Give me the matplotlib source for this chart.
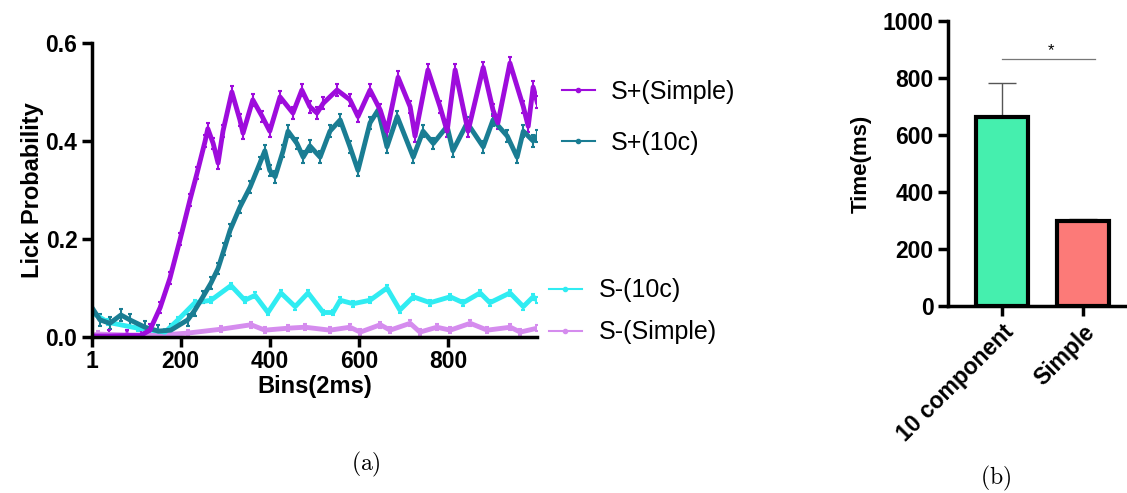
import numpy as np
import matplotlib
matplotlib.use("Agg")
import matplotlib.pyplot as plt
from matplotlib.lines import Line2D

plt.rcParams['font.family'] = ['Liberation Sans', 'DejaVu Sans']
plt.rcParams['mathtext.fontset'] = 'cm'

# (a) lick probability (bin, value)
simple_pos_x = [1, 40, 80, 110, 131, 154, 176, 199, 221, 237, 255, 261, 273, 284, 295, 315, 333, 340, 362,
                383, 400, 423, 452, 472, 490, 506, 520, 551, 580, 598, 625, 648, 663, 688, 715, 726, 755,
                782, 798, 816, 845, 879, 901, 912, 939, 969, 980, 991, 1000]
simple_pos_y = [0.002, 0.002, 0.003, 0.003, 0.014, 0.06, 0.12, 0.20, 0.28, 0.335, 0.40, 0.425, 0.395, 0.355,
                0.42, 0.50, 0.443, 0.416, 0.484, 0.45, 0.42, 0.49, 0.457, 0.504, 0.47, 0.457, 0.477, 0.504,
                0.484, 0.45, 0.504, 0.463, 0.42, 0.53, 0.47, 0.41, 0.545, 0.47, 0.42, 0.545, 0.42, 0.55,
                0.463, 0.437, 0.559, 0.47, 0.43, 0.51, 0.48]

tenc_pos_x = [1, 19, 41, 66, 86, 120, 150, 178, 216, 232, 250, 268, 284, 298, 311, 333, 356, 378, 389, 400,
              412, 430, 441, 461, 475, 490, 513, 535, 558, 580, 598, 625, 643, 663, 686, 722, 744, 767,
              798, 811, 843, 879, 901, 933, 955, 969, 991, 1000]
tenc_pos_y = [0.06, 0.035, 0.028, 0.045, 0.035, 0.02, 0.012, 0.014, 0.035, 0.055, 0.082, 0.11, 0.14, 0.18,
              0.218, 0.265, 0.306, 0.355, 0.38, 0.34, 0.327, 0.38, 0.42, 0.395, 0.367, 0.39, 0.367, 0.42,
              0.443, 0.388, 0.34, 0.437, 0.463, 0.388, 0.45, 0.367, 0.42, 0.395, 0.43, 0.38, 0.437, 0.388,
              0.443, 0.41, 0.367, 0.42, 0.40, 0.41]

tenc_neg_x = [1, 37, 104, 165, 194, 232, 268, 313, 344, 367, 396, 425, 457, 486, 520, 542, 558, 587, 625,
              663, 692, 722, 760, 805, 834, 872, 894, 939, 969, 991, 1000]
tenc_neg_y = [0.05, 0.03, 0.018, 0.01, 0.035, 0.07, 0.075, 0.105, 0.075, 0.085, 0.05, 0.09, 0.062, 0.09,
              0.05, 0.05, 0.075, 0.068, 0.075, 0.10, 0.055, 0.082, 0.07, 0.082, 0.07, 0.09, 0.07, 0.09,
              0.062, 0.082, 0.075]

simple_neg_x = [1, 14, 80, 156, 216, 291, 358, 389, 441, 479, 535, 580, 603, 648, 670, 715, 737, 775, 805,
                850, 888, 940, 962, 1000]
simple_neg_y = [0.003, 0.006, 0.004, 0.004, 0.008, 0.016, 0.025, 0.014, 0.018, 0.02, 0.014, 0.02, 0.01,
                0.025, 0.014, 0.028, 0.01, 0.02, 0.014, 0.028, 0.014, 0.02, 0.01, 0.018]

sem_pos = 0.012
sem_neg = 0.006

# (b) response time
groups = ['10 component', 'Simple']
times = [665, 298]
time_err = [118, 8]

fig = plt.figure(figsize=(11.27, 4.93), dpi=100)

ax = fig.add_axes([0.0816, 0.3164, 0.395, 0.5964])
series = [
    (simple_pos_x, simple_pos_y, sem_pos, '#9E0CDC', 'S+(Simple)'),
    (tenc_pos_x, tenc_pos_y, sem_pos, '#1A7D93', 'S+(10c)'),
    (tenc_neg_x, tenc_neg_y, sem_neg, '#30ECF2', 'S-(10c)'),
    (simple_neg_x, simple_neg_y, sem_neg, '#D58CEE', 'S-(Simple)'),
]
for xs, ys, e, c, lab in series[::-1]:
    ax.errorbar(xs, ys, yerr=e, color=c, lw=3.5, elinewidth=1.5, capsize=1.5, capthick=1.5)

ax.set_xlim(1, 1000)
ax.set_ylim(0, 0.6)
ax.set_xticks([1, 200, 400, 600, 800])
ax.set_yticks([0.0, 0.2, 0.4, 0.6])
ax.set_yticklabels(['0.0', '0.2', '0.4', '0.6'])
ax.set_xlabel('Bins(2ms)', fontsize=17, fontweight='bold', labelpad=2)
ax.set_ylabel('Lick Probability', fontsize=17, fontweight='bold', labelpad=1)
for s in ['top', 'right']:
    ax.spines[s].set_visible(False)
for s in ['left', 'bottom']:
    ax.spines[s].set_linewidth(2.5)
ax.tick_params(width=2.5, length=7, labelsize=16.5)
ax.tick_params(axis='x', pad=2)
for t in ax.get_xticklabels() + ax.get_yticklabels():
    t.set_fontweight('bold')

def handle(c):
    return Line2D([], [], color=c, lw=1.5, marker='o', markersize=3)

leg1 = ax.legend([handle(series[0][3]), handle(series[1][3])], [series[0][4], series[1][4]],
                 loc='center left', bbox_to_anchor=(1.056, 0.748), frameon=False, borderaxespad=0,
                 borderpad=0, fontsize=18, handlelength=1.3, labelspacing=1.08, handletextpad=0.65)
ax.add_artist(leg1)
ax.legend([handle(series[2][3]), handle(series[3][3])], [series[2][4], series[3][4]],
          loc='center left', bbox_to_anchor=(1.027, 0.087), frameon=False, borderaxespad=0,
          borderpad=0, fontsize=18, handlelength=1.3, labelspacing=0.72, handletextpad=0.7)

# panel b
bx = fig.add_axes([0.8412, 0.3793, 0.157, 0.578])
pos = np.arange(len(groups))
bx.bar(pos, times, width=0.64, color=['#45EFAE', '#FC7A78'], edgecolor='black', linewidth=3, zorder=3)
bx.errorbar(pos, times, yerr=[[0, 0], time_err], fmt='none', ecolor='#555555', elinewidth=1,
            capsize=10, capthick=1, zorder=2)
bx.plot([0, 1.15], [867, 867], color='#777777', lw=0.9)
bx.text(0.6, 895, '*', ha='center', va='center', fontsize=12)
bx.set_xlim(-0.667, 1.52)
bx.set_ylim(0, 1000)
bx.set_yticks([0, 200, 400, 600, 800, 1000])
bx.set_xticks(pos)
bx.set_xticklabels(groups, rotation=45, ha='right', rotation_mode='anchor', fontsize=15.5, fontweight='bold')
bx.set_ylabel('Time(ms)', fontsize=16, fontweight='bold', labelpad=8)
for s in ['top', 'right']:
    bx.spines[s].set_visible(False)
for s in ['left', 'bottom']:
    bx.spines[s].set_linewidth(2.5)
bx.tick_params(width=2.5, length=7, labelsize=16.5)
for t in bx.get_yticklabels():
    t.set_fontweight('bold')

fig.text(0.325, 0.057, r'$\mathrm{(a)}$', ha='center', va='center', fontsize=17)
fig.text(0.883, 0.030, r'$\mathrm{(b)}$', ha='center', va='center', fontsize=17)

fig.savefig('out.png', dpi=100)
